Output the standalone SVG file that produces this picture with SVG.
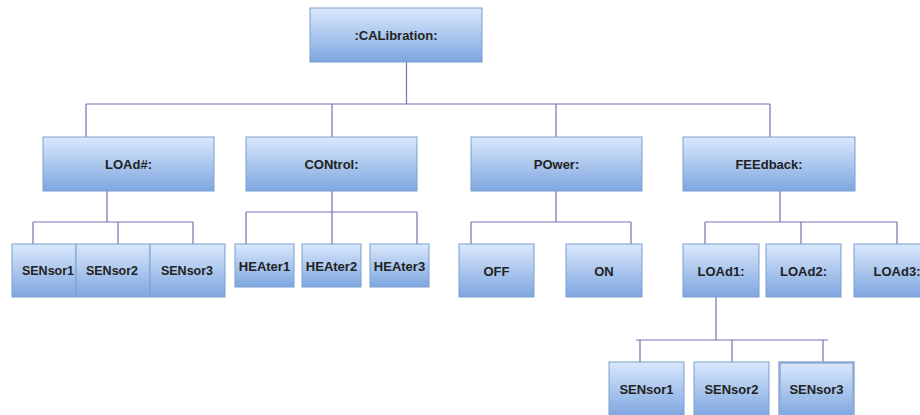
<svg xmlns="http://www.w3.org/2000/svg" width="920" height="415" viewBox="0 0 920 415">
  <defs>
    <linearGradient id="boxFill" x1="0" y1="0" x2="0" y2="1">
      <stop offset="0" stop-color="#dae8fc"/>
      <stop offset="1" stop-color="#7ea6e0"/>
    </linearGradient>
  </defs>
  <style>
    .box { fill: url(#boxFill); stroke: #7b9fd0; stroke-width: 1; }
    .box.strong { stroke-width: 2.5; stroke: #8fabd6; }
    .lbl { font-family: "Liberation Sans", Arial, sans-serif; font-size: 13px; font-weight: bold; fill: #222; text-anchor: middle; dominant-baseline: central; }
    .lbl.small { font-size: 12.5px; }
    .wire { fill: none; stroke: #7a6eb5; stroke-width: 1.2; }
  </style>
  <rect width="920" height="415" fill="#ffffff"/>

  <!-- connectors -->
  <g id="connectors" class="wire">
    <path d="M406.5 62 V104 M86 104 H770 M86 104 V137 M332 104 V137 M556 104 V137 M770 104 V137"/>
    <path d="M107 191 V222 M33 222 H193 M33 222 V244 M118 222 V244 M193 222 V244"/>
    <path d="M332 191 V212 M246 212 H417 M246 212 V244 M332 212 V244 M417 212 V244"/>
    <path d="M556 191 V222 M471 222 H631 M471 222 V244 M631 222 V244"/>
    <path d="M780 191 V222 M705 222 H897 M705 222 V244 M801 222 V244 M897 222 V244"/>
    <path d="M716 297 V340 M636 340 H828 M640 340 V362 M732 340 V362 M823 340 V362"/>
  </g>

  <!-- root -->
  <g id="calibration"><rect class="box" x="310" y="8" width="172" height="54"/><text class="lbl" x="396" y="35">:CALibration:</text></g>

  <!-- second level -->
  <g id="load"><rect class="box" x="43" y="137" width="171" height="54"/><text class="lbl" x="128.5" y="164">LOAd#:</text></g>
  <g id="control"><rect class="box" x="246" y="137" width="171" height="54"/><text class="lbl" x="331.5" y="164">CONtrol:</text></g>
  <g id="power"><rect class="box" x="471" y="137" width="171" height="54"/><text class="lbl" x="556.5" y="164">POwer:</text></g>
  <g id="feedback"><rect class="box" x="683" y="137" width="172" height="54"/><text class="lbl" x="769" y="164">FEEdback:</text></g>

  <!-- LOAd# children -->
  <g id="load-sensor1"><rect class="box" x="12" y="244" width="64" height="53"/><text class="lbl small" x="48" y="271">SENsor1</text></g>
  <g id="load-sensor2"><rect class="box" x="76" y="244" width="74" height="53"/><text class="lbl small" x="112" y="271">SENsor2</text></g>
  <g id="load-sensor3"><rect class="box" x="150" y="244" width="75" height="53"/><text class="lbl small" x="187" y="271">SENsor3</text></g>

  <!-- CONtrol children -->
  <g id="heater1"><rect class="box" x="235" y="244" width="59" height="43"/><text class="lbl" x="264.5" y="266">HEAter1</text></g>
  <g id="heater2"><rect class="box" x="302" y="244" width="59" height="43"/><text class="lbl" x="331.5" y="266">HEAter2</text></g>
  <g id="heater3"><rect class="box" x="370" y="244" width="59" height="43"/><text class="lbl" x="399.5" y="266">HEAter3</text></g>

  <!-- POwer children -->
  <g id="off"><rect class="box" x="459" y="244" width="75" height="53"/><text class="lbl" x="496.5" y="271">OFF</text></g>
  <g id="on"><rect class="box" x="566" y="244" width="76" height="53"/><text class="lbl" x="604" y="271">ON</text></g>

  <!-- FEEdback children -->
  <g id="load1"><rect class="box" x="683" y="244" width="76" height="53"/><text class="lbl" x="721" y="271">LOAd1:</text></g>
  <g id="load2"><rect class="box" x="766" y="244" width="75" height="53"/><text class="lbl" x="803.5" y="271">LOAd2:</text></g>
  <g id="load3"><rect class="box" x="854" y="244" width="76" height="53"/><text class="lbl" x="897" y="271">LOAd3:</text></g>

  <!-- LOAd1 children -->
  <g id="load1-sensor1"><rect class="box" x="609" y="362" width="75" height="54"/><text class="lbl" x="646.5" y="389">SENsor1</text></g>
  <g id="load1-sensor2"><rect class="box" x="694" y="362" width="75" height="54"/><text class="lbl" x="731.5" y="389">SENsor2</text></g>
  <g id="load1-sensor3"><rect class="box strong" x="779.5" y="362.5" width="74" height="54"/><text class="lbl" x="816.5" y="389">SENsor3</text></g>
</svg>
